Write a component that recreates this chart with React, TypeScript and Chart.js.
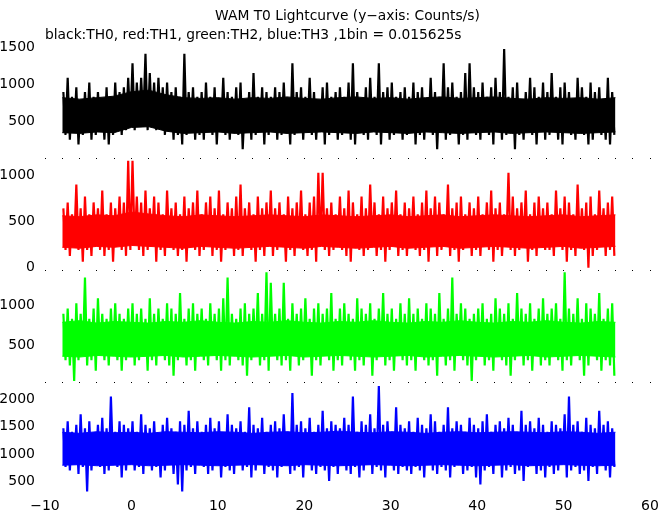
import React, { useEffect, useRef } from 'react';
import { Chart, registerables } from 'chart.js';

Chart.register(...registerables);

const TITLE = 'WAM T0 Lightcurve (y\u2212axis: Counts/s)';
const SUBTITLE = 'black:TH0, red:TH1, green:TH2, blue:TH3 ,1bin = 0.015625s';

// The 1/64 s light curve spans -8 s .. 56 s. It is summarised per channel by
// - the highest and lowest count rate (counts/s) in each 0.5 s slice (spikes), and
// - the edges of the densely filled core, read every 2 s.
const dataStart = -8;
const sliceWidth = 0.5;
const coreStep = 2;

const th0High = [
  896, 1088, 832, 960, 768, 896, 1024, 832, 896, 768, 960, 832, 1024, 896, 960, 1088,
  1280, 1024, 1088, 1408, 1152, 1024, 1088, 960, 1024, 896, 960, 832, 1408, 896, 960, 832,
  896, 1024, 832, 960, 768, 1088, 896, 832, 960, 1024, 768, 896, 1152, 832, 960, 896,
  832, 960, 896, 1024, 768, 1280, 896, 960, 832, 1088, 896, 768, 960, 1024, 832, 896,
  960, 832, 1024, 1280, 896, 768, 960, 1088, 832, 1280, 896, 960, 1024, 832, 896, 960,
  832, 1024, 896, 960, 768, 1088, 896, 832, 1280, 960, 1024, 832, 896, 1152, 1280, 960,
  896, 1024, 832, 960, 1088, 896, 1472, 832, 960, 1024, 768, 896, 1088, 960, 832, 1024,
  896, 1152, 832, 960, 1024, 896, 768, 1088, 960, 832, 1024, 896, 960, 768, 1088, 896,
];
const th0Low = [
  320, 256, 384, 192, 320, 384, 256, 320, 384, 256, 192, 320, 384, 320, 384, 448,
  384, 448, 512, 384, 448, 384, 448, 320, 384, 256, 320, 192, 320, 384, 256, 320,
  256, 384, 320, 192, 384, 320, 256, 384, 320, 128, 384, 256, 320, 384, 192, 320,
  384, 256, 320, 384, 192, 320, 384, 256, 384, 320, 256, 384, 192, 320, 384, 256,
  320, 384, 256, 192, 384, 320, 256, 384, 320, 192, 384, 256, 320, 384, 256, 320,
  384, 192, 320, 256, 384, 320, 128, 384, 256, 320, 384, 192, 320, 256, 384, 320,
  256, 384, 320, 192, 384, 256, 320, 384, 128, 320, 256, 384, 320, 192, 384, 256,
  320, 384, 256, 192, 384, 320, 256, 384, 320, 192, 256, 384, 320, 256, 192, 320,
];
const th0CoreTop = [
  820, 800, 820, 840, 900, 920, 860, 820, 810, 820, 800, 820, 810, 830, 810, 800, 820,
  830, 810, 820, 800, 820, 830, 810, 820, 830, 810, 800, 820, 810, 820, 800, 820,
];
const th0CoreBottom = [
  350, 340, 360, 350, 420, 430, 370, 340, 350, 360, 340, 350, 360, 340, 350, 360, 350,
  340, 360, 350, 340, 360, 350, 340, 350, 360, 340, 350, 360, 350, 340, 350, 360,
];

const th1High = [
  640, 704, 576, 896, 640, 768, 576, 704, 640, 832, 576, 704, 640, 768, 704, 1152,
  1152, 768, 704, 832, 640, 768, 704, 576, 832, 640, 704, 576, 768, 640, 704, 832,
  576, 704, 768, 640, 832, 576, 704, 640, 768, 896, 640, 704, 576, 768, 640, 704,
  832, 640, 704, 576, 768, 640, 704, 832, 576, 704, 768, 1024, 1024, 640, 704, 576,
  768, 640, 832, 704, 576, 768, 640, 896, 704, 576, 768, 640, 704, 832, 576, 704,
  640, 768, 576, 704, 832, 640, 768, 704, 576, 896, 640, 704, 768, 576, 704, 640,
  768, 576, 704, 832, 640, 704, 576, 1024, 768, 640, 704, 832, 576, 704, 768, 640,
  704, 576, 832, 640, 768, 704, 576, 896, 640, 704, 768, 576, 832, 640, 704, 768,
];
const th1Low = [
  192, 128, 256, 192, 64, 192, 128, 256, 192, 128, 192, 64, 256, 192, 128, 192,
  256, 192, 128, 192, 256, 64, 192, 128, 256, 192, 128, 192, 64, 256, 192, 128,
  192, 256, 128, 192, 64, 192, 256, 128, 192, 128, 256, 192, 64, 192, 128, 256,
  128, 192, 256, 64, 192, 128, 256, 192, 128, 192, 64, 256, 192, 128, 192, 256,
  192, 128, 64, 256, 192, 128, 192, 256, 128, 192, 64, 192, 256, 128, 192, 128,
  256, 192, 128, 192, 64, 256, 128, 192, 256, 128, 192, 64, 192, 256, 128, 192,
  128, 256, 192, 64, 192, 128, 256, 192, 128, 192, 256, 64, 192, 128, 256, 192,
  192, 128, 256, 192, 64, 192, 128, 256, 192, 0, 128, 192, 256, 128, 192, 128,
];
const th1CoreTop = [
  560, 550, 570, 560, 600, 580, 560, 550, 570, 560, 550, 560, 570, 560, 550, 570, 560,
  550, 560, 570, 550, 560, 570, 550, 560, 570, 560, 550, 560, 570, 550, 560, 570,
];
const th1CoreBottom = [
  220, 210, 230, 220, 240, 230, 220, 210, 230, 220, 210, 220, 230, 220, 210, 230, 220,
  210, 220, 230, 210, 220, 230, 210, 220, 230, 220, 210, 220, 230, 210, 220, 230,
];

const th2High = [
  896, 960, 832, 1024, 896, 1344, 832, 960, 1088, 896, 832, 960, 1024, 896, 832, 960,
  1024, 896, 960, 832, 1088, 896, 960, 832, 1024, 960, 896, 1152, 832, 960, 1024, 896,
  960, 832, 1024, 896, 960, 1088, 1344, 896, 832, 960, 1024, 896, 960, 1152, 896, 1408,
  1280, 896, 960, 1280, 832, 1024, 896, 960, 1088, 832, 960, 1024, 896, 960, 1152, 832,
  960, 1024, 896, 832, 1088, 960, 896, 1024, 832, 960, 1152, 896, 960, 832, 1024, 896,
  1088, 896, 960, 832, 1024, 960, 896, 1152, 832, 960, 1344, 896, 1024, 960, 832, 896,
  960, 1024, 832, 896, 1088, 960, 896, 1024, 832, 1152, 960, 896, 1024, 832, 960, 1088,
  896, 960, 1024, 832, 1408, 960, 896, 1088, 832, 1024, 960, 896, 1152, 832, 960, 1024,
];
const th2Low = [
  320, 256, 64, 320, 384, 256, 320, 192, 384, 320, 256, 384, 320, 192, 320, 384,
  256, 320, 384, 192, 320, 256, 384, 320, 256, 128, 320, 384, 256, 320, 192, 384,
  320, 256, 384, 320, 192, 320, 256, 384, 320, 256, 128, 320, 384, 256, 320, 192,
  384, 320, 256, 320, 192, 384, 256, 320, 384, 128, 320, 256, 384, 320, 192, 320,
  256, 384, 320, 192, 320, 256, 384, 128, 320, 384, 256, 320, 192, 384, 320, 256,
  320, 192, 384, 320, 256, 320, 128, 384, 256, 320, 192, 384, 320, 256, 64, 320,
  384, 256, 320, 192, 384, 320, 256, 128, 320, 384, 256, 320, 192, 384, 256, 320,
  256, 384, 320, 192, 320, 256, 384, 320, 128, 256, 384, 320, 192, 320, 256, 128,
];
const th2CoreTop = [
  790, 810, 780, 800, 790, 780, 800, 790, 810, 790, 780, 800, 790, 810, 790, 780, 800,
  790, 810, 790, 780, 800, 790, 810, 790, 780, 800, 790, 810, 790, 780, 800, 790,
];
const th2CoreBottom = [
  370, 360, 380, 370, 360, 370, 380, 360, 370, 380, 370, 360, 370, 380, 360, 370, 380,
  370, 360, 370, 380, 360, 370, 380, 370, 360, 370, 380, 360, 370, 380, 370, 360,
];

const th3High = [
  1472, 1600, 1408, 1536, 1728, 1472, 1600, 1344, 1536, 1664, 1472, 2048, 1408, 1600, 1536, 1472,
  1600, 1408, 1728, 1536, 1472, 1600, 1344, 1536, 1664, 1472, 1408, 1600, 1536, 1792, 1472, 1600,
  1408, 1536, 1664, 1472, 1600, 1344, 1728, 1536, 1472, 1600, 1408, 1856, 1536, 1472, 1664, 1408,
  1536, 1600, 1472, 1728, 1408, 2112, 1536, 1600, 1472, 1664, 1408, 1536, 1792, 1472, 1600, 1536,
  1472, 1664, 1536, 2048, 1408, 1600, 1536, 1728, 1472, 2240, 1536, 1600, 1408, 1856, 1536, 1472,
  1600, 1408, 1664, 1536, 1472, 1728, 1600, 1408, 1536, 1856, 1472, 1600, 1536, 1408, 1664, 1536,
  1472, 1600, 1728, 1408, 1536, 1600, 1472, 1664, 1536, 1408, 1792, 1536, 1600, 1472, 1664, 1536,
  1408, 1600, 1536, 1472, 1728, 2048, 1536, 1600, 1408, 1664, 1536, 1472, 1792, 1536, 1600, 1472,
];
const th3Low = [
  768, 704, 832, 640, 768, 320, 704, 832, 768, 640, 704, 832, 768, 576, 704, 832,
  704, 768, 640, 832, 704, 768, 576, 704, 832, 640, 448, 320, 704, 768, 640, 832,
  768, 640, 704, 832, 576, 768, 704, 640, 832, 704, 768, 576, 704, 832, 640, 768,
  704, 576, 768, 832, 640, 704, 768, 576, 832, 704, 640, 768, 704, 512, 768, 640,
  832, 704, 640, 768, 576, 704, 832, 640, 768, 704, 576, 832, 704, 640, 768, 704,
  640, 768, 704, 576, 832, 704, 640, 768, 704, 576, 768, 832, 640, 704, 768, 576,
  448, 704, 768, 640, 832, 576, 704, 768, 640, 704, 512, 768, 832, 640, 704, 576,
  768, 640, 704, 832, 576, 704, 768, 640, 704, 512, 768, 640, 832, 704, 576, 768,
];
const th3CoreTop = [
  1400, 1380, 1410, 1390, 1400, 1380, 1410, 1400, 1390, 1410, 1400, 1380, 1400, 1410, 1390, 1400, 1420,
  1400, 1390, 1410, 1400, 1380, 1400, 1410, 1390, 1400, 1410, 1400, 1390, 1410, 1400, 1380, 1400,
];
const th3CoreBottom = [
  800, 810, 790, 800, 810, 790, 800, 810, 800, 790, 800, 810, 800, 790, 810, 800, 790,
  800, 810, 800, 790, 800, 810, 800, 790, 800, 810, 790, 800, 810, 800, 790, 800,
];

// Axis ranges and tick labels
const xRange = [-10, 60];
const xMinorStep = 2;
const xMajorTicks = [-10, 0, 10, 20, 30, 40, 50, 60];

const th0Range = [0, 1500];
const th1Range = [-30, 1175];
const th2Range = [48, 1431];
const th3Range = [276, 2310];
const th0Ticks = [500, 1000, 1500];
const th1Ticks = [0, 500, 1000];
const th2Ticks = [500, 1000];
const th3Ticks = [500, 1000, 1500, 2000];

const FONT = "'DejaVu Sans', 'Liberation Sans', sans-serif";

const fmt = (v: number) => (v < 0 ? '\u2212' + Math.abs(v) : String(v));

// max at the first quarter of each slice, min at the third quarter -> dense zig-zag
function spikePoints(high: number[], low: number[]) {
  const pts: { x: number; y: number }[] = [];
  for (let k = 0; k < high.length; k++) {
    const t0 = dataStart + k * sliceWidth;
    pts.push({ x: t0 + sliceWidth * 0.25, y: high[k] });
    pts.push({ x: t0 + sliceWidth * 0.75, y: low[k] });
  }
  return pts;
}

function corePoints(values: number[]) {
  return values.map((y, k) => ({ x: dataStart + k * coreStep, y }));
}

function yAxis(range: number[], ticks: number[]) {
  return {
    type: 'linear' as const,
    position: 'left' as const,
    stack: 'panels',
    stackWeight: 1,
    min: range[0],
    max: range[1],
    grid: { display: false, drawTicks: false },
    border: { display: false },
    ticks: {
      padding: 10,
      color: '#000',
      font: { family: FONT, size: 14 },
      callback: (v: any) => fmt(Number(v)),
    },
    afterBuildTicks: (scale: any) => {
      scale.ticks = ticks.map((value) => ({ value }));
    },
    afterFit: (scale: any) => {
      scale.width = 45;
    },
  };
}

export default function App() {
  const ref = useRef<HTMLCanvasElement | null>(null);

  useEffect(() => {
    if (!ref.current) return;
    const minorTicks: number[] = [];
    for (let v = xRange[0]; v <= xRange[1] + 1e-9; v += xMinorStep) minorTicks.push(v);

    const series = [
      { label: 'TH0', high: th0High, low: th0Low, top: th0CoreTop, bottom: th0CoreBottom, color: '#000000', axis: 'yTH0' },
      { label: 'TH1', high: th1High, low: th1Low, top: th1CoreTop, bottom: th1CoreBottom, color: '#ff0000', axis: 'yTH1' },
      { label: 'TH2', high: th2High, low: th2Low, top: th2CoreTop, bottom: th2CoreBottom, color: '#00ff00', axis: 'yTH2' },
      { label: 'TH3', high: th3High, low: th3Low, top: th3CoreTop, bottom: th3CoreBottom, color: '#0000ff', axis: 'yTH3' },
    ];

    const common = { pointRadius: 0, tension: 0 };
    const datasets: any[] = [];
    series.forEach((s) => {
      datasets.push({
        ...common,
        label: s.label + ' core top',
        data: corePoints(s.top),
        borderColor: s.color,
        backgroundColor: s.color,
        borderWidth: 1,
        fill: '+1',
        yAxisID: s.axis,
      });
      datasets.push({
        ...common,
        label: s.label + ' core bottom',
        data: corePoints(s.bottom),
        borderColor: s.color,
        backgroundColor: s.color,
        borderWidth: 1,
        fill: false,
        yAxisID: s.axis,
      });
      datasets.push({
        ...common,
        label: s.label,
        data: spikePoints(s.high, s.low),
        borderColor: s.color,
        backgroundColor: s.color,
        borderWidth: 2.2,
        borderJoinStyle: 'bevel',
        fill: false,
        yAxisID: s.axis,
      });
    });

    const chart = new Chart(ref.current, {
      type: 'line',
      data: { datasets },
      options: {
        animation: false,
        responsive: false,
        devicePixelRatio: 1,
        events: [],
        layout: { padding: { top: 0, right: 22, bottom: -4, left: 0 } },
        plugins: {
          legend: { display: false },
          tooltip: { enabled: false },
          title: {
            display: true,
            text: TITLE,
            fullSize: false,
            color: '#000',
            font: { family: FONT, size: 13.8, weight: 'normal', lineHeight: '16px' },
            padding: { top: 8, bottom: 0 },
          },
          subtitle: {
            display: true,
            text: SUBTITLE,
            align: 'start',
            fullSize: false,
            color: '#000',
            font: { family: FONT, size: 13.8, weight: 'normal', lineHeight: '16px' },
            padding: { top: 3, bottom: 4 },
          },
        },
        scales: {
          x: {
            type: 'linear',
            position: 'bottom',
            min: xRange[0],
            max: xRange[1],
            afterBuildTicks: (scale: any) => {
              scale.ticks = minorTicks.map((value) => ({ value }));
            },
            ticks: {
              autoSkip: false,
              maxRotation: 0,
              padding: 4,
              color: '#000',
              font: { family: FONT, size: 14, lineHeight: '17px' },
              callback: (v: any) => {
                const n = Math.round(Number(v));
                return xMajorTicks.includes(n) ? fmt(n) : '';
              },
            },
            grid: {
              display: true,
              drawOnChartArea: true,
              drawTicks: false,
              color: '#000',
              lineWidth: 1,
            },
            border: { display: false, dash: [0, 111, 1, 111, 1, 111, 1, 2000] },
          },
          yTH3: yAxis(th3Range, th3Ticks),
          yTH2: yAxis(th2Range, th2Ticks),
          yTH1: yAxis(th1Range, th1Ticks),
          yTH0: yAxis(th0Range, th0Ticks),
        } as any,
      },
    });
    return () => chart.destroy();
  }, []);

  return (
    <div style={{ position: 'fixed', left: 0, top: 0, width: 672, height: 515, background: '#fff' }}>
      <canvas ref={ref} width={672} height={515} />
    </div>
  );
}
